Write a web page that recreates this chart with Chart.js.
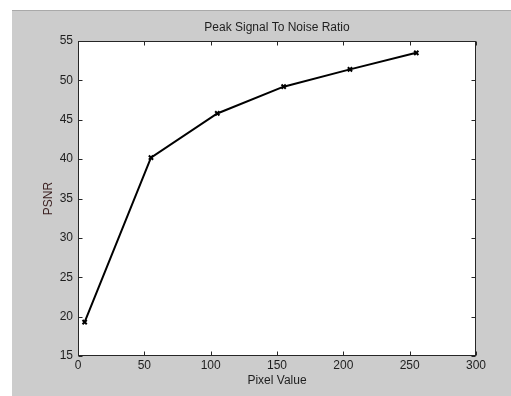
<!DOCTYPE html>
<html>
<head>
<meta charset="utf-8">
<style>
html,body{margin:0;padding:0;background:#fff;}
#wrap{position:absolute;left:0;top:0;width:511px;height:396px;}
</style>
<script src="https://cdn.jsdelivr.net/npm/chart.js@4/dist/chart.umd.min.js"></script>
</head>
<body>
<div id="wrap"><canvas id="c" width="511" height="396"></canvas></div>
<script>
const pixelValues = [5, 55, 105, 155, 205, 255];
const psnrValues = [19.3, 40.2, 45.8, 49.2, 51.4, 53.5];
const xTickRange = [0, 300, 50];
const yTickRange = [15, 55, 5];
const chartTitle = 'Peak Signal To Noise Ratio';
const xTitle = 'Pixel Value';
const yTitle = 'PSNR';

const FONT = "'Liberation Sans', Arial, sans-serif";
const TEXT = '#1e1e1e';

const framePlugin = {
  id: 'frame',
  beforeDraw(chart) {
    const ctx = chart.ctx, a = chart.chartArea;
    ctx.save();
    ctx.fillStyle = '#ffffff';
    ctx.fillRect(0, 0, chart.width, chart.height);
    ctx.fillStyle = '#cccccc';
    ctx.fillRect(12, 10, chart.width - 12, chart.height - 10);
    ctx.fillStyle = '#a9a9a9';
    ctx.fillRect(12, 10, chart.width - 12, 1);
    ctx.fillStyle = '#ffffff';
    ctx.fillRect(a.left, a.top, a.right - a.left, a.bottom - a.top);
    ctx.restore();
  },
  afterDraw(chart) {
    const ctx = chart.ctx, a = chart.chartArea;
    const xs = chart.scales.x, ys = chart.scales.y;
    const L = Math.round(a.left) + 0.5, R = Math.round(a.right) - 0.5;
    const T = Math.round(a.top) + 0.5, B = Math.round(a.bottom) - 0.5;
    const tl = 4;
    ctx.save();
    ctx.strokeStyle = '#262626';
    ctx.lineWidth = 1;
    ctx.beginPath();
    xs.ticks.forEach(t => {
      const px = Math.round(xs.getPixelForValue(t.value)) + 0.5;
      ctx.moveTo(px, B); ctx.lineTo(px, B - tl);
      ctx.moveTo(px, T); ctx.lineTo(px, T + tl);
    });
    ys.ticks.forEach(t => {
      const py = Math.round(ys.getPixelForValue(t.value)) + 0.5;
      ctx.moveTo(L, py); ctx.lineTo(L + tl, py);
      ctx.moveTo(R, py); ctx.lineTo(R - tl, py);
    });
    ctx.stroke();
    ctx.strokeRect(L, T, R - L, B - T);
    ctx.restore();
  }
};

new Chart(document.getElementById('c'), {
  type: 'line',
  data: {
    datasets: [{
      data: pixelValues.map((x, i) => ({x: x, y: psnrValues[i]})),
      borderColor: '#000000',
      backgroundColor: '#000000',
      borderWidth: 2,
      pointStyle: 'crossRot',
      pointRadius: 3,
      pointBorderWidth: 2,
      pointBorderColor: '#000000',
      tension: 0,
      fill: false
    }]
  },
  options: {
    responsive: false,
    animation: false,
    devicePixelRatio: 1,
    layout: {padding: {left: 0, right: 35, top: 0, bottom: 0}},
    plugins: {
      legend: {display: false},
      tooltip: {enabled: false},
      title: {
        display: true,
        fullSize: false,
        text: chartTitle,
        color: TEXT,
        font: {family: FONT, size: 12, weight: 'normal'},
        padding: {top: 20, bottom: 6.6}
      }
    },
    scales: {
      x: {
        type: 'linear',
        min: xTickRange[0], max: xTickRange[1],
        grid: {display: false, drawTicks: false},
        border: {display: false},
        ticks: {stepSize: xTickRange[2], color: TEXT, font: {family: FONT, size: 12}, padding: 2, maxRotation: 0},
        title: {display: true, text: xTitle, color: TEXT, font: {family: FONT, size: 12}, padding: {top: 0, bottom: 8}},
        afterFit(s) { s.height = 40; }
      },
      y: {
        type: 'linear',
        min: yTickRange[0], max: yTickRange[1],
        grid: {display: false, drawTicks: false},
        border: {display: false},
        ticks: {stepSize: yTickRange[2], color: TEXT, font: {family: FONT, size: 12}, padding: 5},
        title: {display: true, text: yTitle, color: '#3a1e1e', font: {family: FONT, size: 12}, padding: {top: 41, bottom: 0}},
        afterFit(s) { s.width = 78; }
      }
    }
  },
  plugins: [framePlugin]
});
</script>
</body>
</html>
